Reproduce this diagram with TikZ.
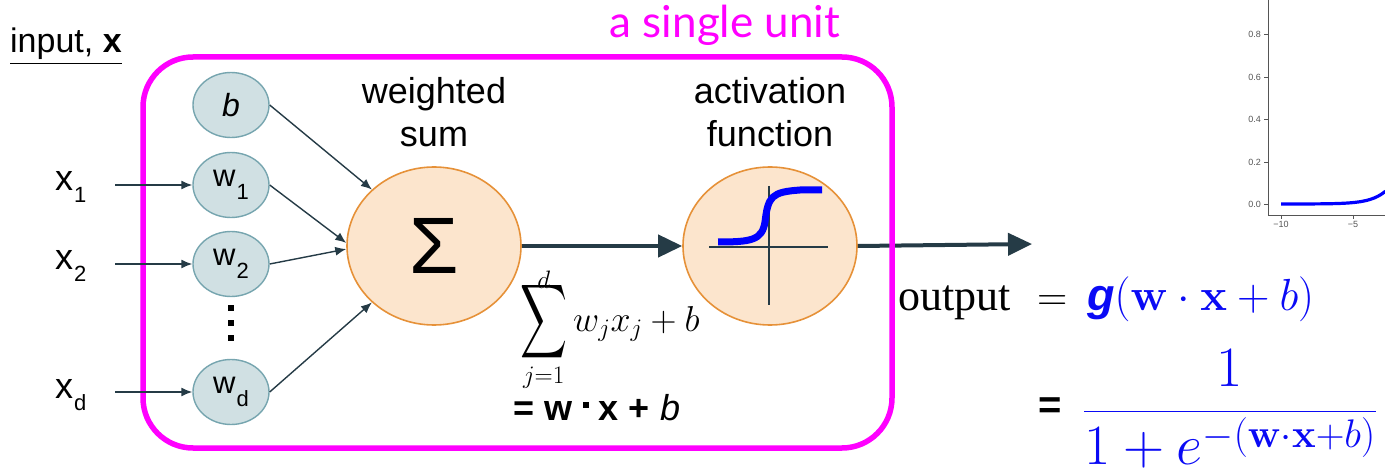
\RequirePackage{fix-cm}
\documentclass[tikz,border=0pt]{standalone}
\usepackage{exscale}
\usepackage[no-math]{fontspec}
\setmainfont{Liberation Sans}
\newfontfamily\timesf{Liberation Serif}
\newfontfamily\roundf{Lato}
\usetikzlibrary{shapes.geometric,arrows.meta}
\definecolor{magentaF}{HTML}{FF00FF}
\definecolor{wfill}{HTML}{D0E0E3}
\definecolor{wdraw}{HTML}{76A5AF}
\definecolor{ofill}{HTML}{FCE5CD}
\definecolor{odraw}{HTML}{E69138}
\definecolor{dark}{HTML}{253B46}
\definecolor{fblue}{HTML}{0A0AF5}
\definecolor{axisgray}{HTML}{555555}
\newcommand{\wsub}[1]{\fontsize{31}{31}\selectfont w\hspace{1pt}\raisebox{-13pt}{\fontsize{22}{22}\selectfont #1}}
\newcommand{\xsub}[1]{\fontsize{36}{36}\selectfont x\hspace{1pt}\raisebox{-12pt}{\fontsize{22}{22}\selectfont #1}}
\newcommand{\bigsumop}{\mathop{\vcenter{\hbox{\resizebox{47pt}{60pt}{$\displaystyle\sum$}}}}}
\begin{document}
\begin{tikzpicture}[x=1pt,y=-1pt,
  wnode/.style={ellipse,draw=wdraw,fill=wfill,line width=1.4pt,minimum width=76pt,minimum height=65pt,inner sep=0pt},
  onode/.style={ellipse,draw=odraw,fill=ofill,line width=1.6pt,minimum width=174pt,minimum height=158pt,inner sep=0pt},
  thinarrow/.style={draw=dark,line width=1.4pt,-{Latex[length=11pt,width=9pt]}},
  thickarrow/.style={draw=dark,line width=4pt,-{Triangle[length=24pt,width=22pt]}},
  lbl/.style={font=\fontsize{36}{43}\selectfont,align=center,inner sep=0pt,anchor=north},
  inlbl/.style={inner sep=0pt,anchor=base west},
  ticklbl/.style={font=\fontsize{9}{9}\selectfont,text=axisgray,inner sep=0pt},
]
\useasboundingbox (0,0) rectangle (1385,473);

% sigmoid plot (top right)
\draw[axisgray,line width=0.8pt] (1268,0) -- (1268,215) -- (1385,215);
\foreach \v/\yy in {0.8/34,0.6/77,0.4/119,0.2/162,0.0/204}{
  \draw[axisgray,line width=0.8pt] (1264,\yy) -- (1268,\yy);
  \node[ticklbl,anchor=east] at (1261,\yy) {\v};
}
\foreach \v/\xx in {−10/1281,−5/1353}{
  \draw[axisgray,line width=0.8pt] (\xx,215) -- (\xx,219);
  \node[ticklbl,anchor=north] at (\xx,221) {\v};
}
\draw[blue,line width=3.2pt] plot[domain=-10:-2.75,samples=80,smooth] ({1281+14.4*(\x+10)},{204-212.5*exp(\x)/(1+exp(\x))});

% titles
\node[font=\roundf\fontsize{44}{44}\selectfont,text=magentaF,anchor=base,inner sep=0pt] (title) at (725,38) {a single unit};
\node[inlbl,font=\fontsize{34}{34}\selectfont] (inp) at (10,53) {\underline{input, \textbf{x}}};

% nodes
\node[wnode] (b) at (231,105) {\fontsize{32}{32}\selectfont\itshape b};
\node[wnode] (w1) at (231,185) {\wsub{1}};
\node[wnode] (w2) at (231,264) {\wsub{2}};
\node[wnode] (wd) at (231,392) {\wsub{d}};
\fill (228,305) rectangle (234,311);
\fill (228,320) rectangle (234,326);
\fill (228,335) rectangle (234,341);

\node[inlbl] (x1) at (55,191) {\xsub{1}};
\node[inlbl] (x2) at (55,270) {\xsub{2}};
\node[inlbl] (xd) at (55,398) {\xsub{d}};
\coordinate (x1s) at (115,185);
\coordinate (x2s) at (115,264);
\coordinate (xds) at (115,392);

\node[onode] (sum) at (434,246) {\fontsize{80}{80}\selectfont Σ};
\node[onode] (act) at (770,246) {};
\draw[dark,line width=2pt] (709,247) -- (828,247);
\draw[dark,line width=2pt] (769,186) -- (769,305);
\draw[blue,line width=7pt] (718,242) .. controls (752,242) and (762,240) .. (765,222) .. controls (768,196) and (772,192) .. (800,190) -- (822,190);

\node[lbl] (ws) at (434,77) {weighted\\sum};
\node[lbl] (af) at (770,77) {activation\\function};

% output arrow below the frame
\coordinate (outend) at (1032,244);
\draw[thickarrow] (act.east) -- (outend);

% frame
\node[draw=magentaF,line width=5.5pt,rounded corners=50pt,minimum width=749pt,minimum height=391pt,inner sep=0pt] (unit) at (517.5,252.5) {};

% connectors
\draw[thinarrow] (x1s) -- (w1);
\draw[thinarrow] (x2s) -- (w2);
\draw[thinarrow] (xds) -- (wd);
\draw[thinarrow] (b.east) -- (sum.north west);
\draw[thinarrow] (w1.east) -- (sum.178);
\draw[thinarrow] (w2.east) -- (sum.182);
\draw[thinarrow] (wd.east) -- (sum.south west);
\draw[thickarrow] (sum) -- (act);

% formulas
\node[anchor=base west,inner sep=0pt] (sumf) at (520,331) {\fontsize{36}{36}\selectfont$\displaystyle\bigsumop\limits_{j=1}^{\smash{\raisebox{-13pt}{$\scriptstyle d$}}} w_j x_j +b$};
\node[anchor=base,inner sep=0pt] (dotf) at (597,420) {\fontsize{36}{36}\selectfont\bfseries = w \raisebox{12pt}{\rule{6pt}{6pt}} x + {\mdseries\itshape b}};

\node[anchor=base west,inner sep=0pt] (outw) at (898,310) {\timesf\fontsize{44}{44}\selectfont output};
\node[anchor=base west,inner sep=0pt] (eq1) at (1037,310) {\fontsize{42}{42}\selectfont$=$};
\node[anchor=base west,inner sep=0pt,text=fblue] (gx) at (1087,310) {\fontsize{45}{45}\selectfont\bfseries\itshape g\mdseries\upshape$(\mathbf{w}\cdot\mathbf{x}+b)$};
\node[inner sep=0pt] (eq2) at (1050,408) {\fontsize{40}{40}\selectfont\bfseries =};
\node[anchor=west,inner sep=0pt,text=fblue] (frac) at (1083,409) {\fontsize{57}{57}\selectfont$\displaystyle\frac{1}{1+e^{-(\mathbf{w}\cdot\mathbf{x}+b)}}$};
\end{tikzpicture}
\end{document}
